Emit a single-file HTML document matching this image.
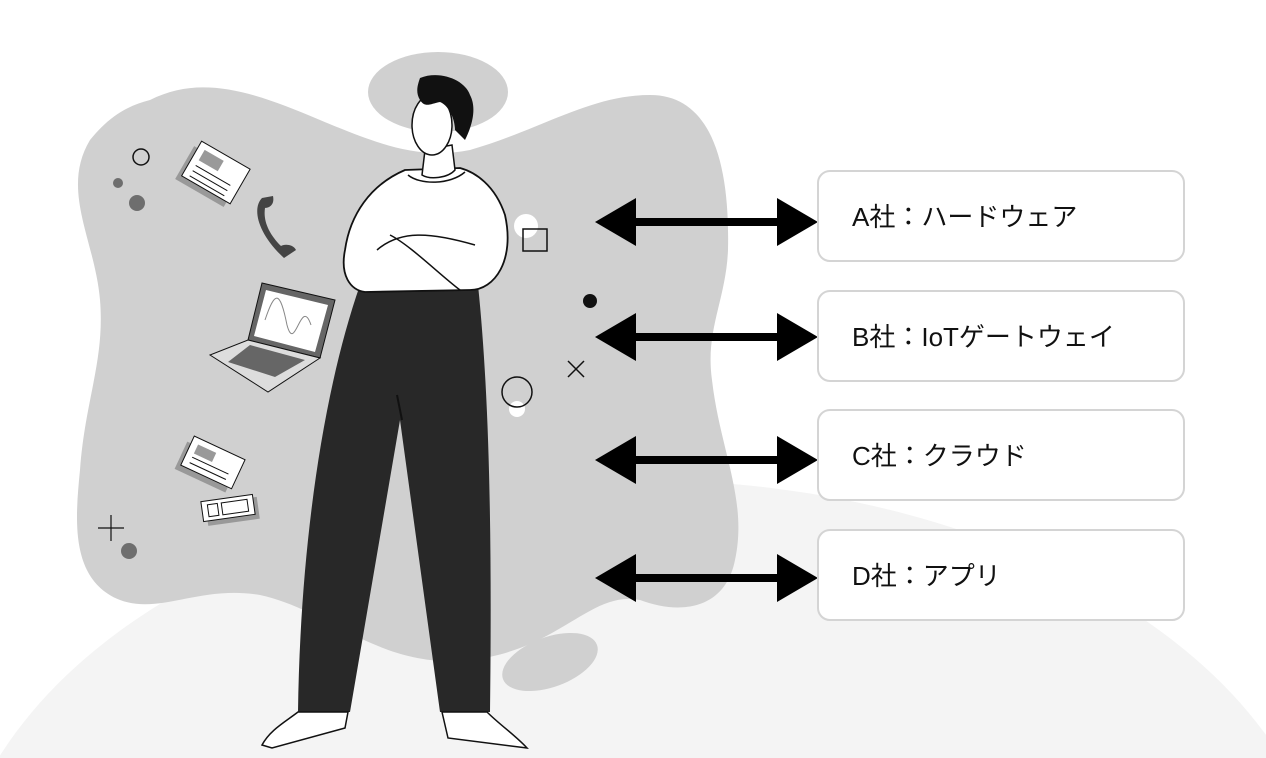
<!DOCTYPE html>
<html><head><meta charset="utf-8"><style>
html,body{margin:0;padding:0;background:#fff;width:1266px;height:758px;overflow:hidden;}
svg{display:block}
text{font-family:"Liberation Sans","Noto Sans CJK JP",sans-serif;}
</style></head><body>
<svg width="1266" height="758" viewBox="0 0 1266 758" xmlns="http://www.w3.org/2000/svg">
<ellipse cx="640" cy="920" rx="690" ry="440" fill="#f4f4f4"/>
<path d="M150,100 C200,75 250,90 320,120 C380,145 420,160 470,150 C540,130 590,95 650,95 C710,95 730,160 728,250 C726,300 705,330 712,380 C720,450 748,500 735,560 C725,610 680,615 640,600 C590,590 560,650 470,660 C380,670 330,610 260,595 C200,585 160,615 120,600 C70,580 75,520 80,470 C85,400 105,360 100,300 C95,240 60,190 90,140 C110,115 130,105 150,100 Z" fill="#d0d0d0"/>
<ellipse cx="438" cy="92" rx="70" ry="40" fill="#d0d0d0"/>
<ellipse cx="550" cy="662" rx="50" ry="25" fill="#d0d0d0" transform="rotate(-20 550 662)"/>
<circle cx="141" cy="157" r="8" fill="none" stroke="#111" stroke-width="1.5"/>
<circle cx="118" cy="183" r="5" fill="#6e6e6e"/>
<circle cx="137" cy="203" r="8" fill="#6e6e6e"/>
<circle cx="129" cy="551" r="8" fill="#6e6e6e"/>
<path d="M98,528 h26 M111,515 v26" stroke="#111" stroke-width="1.2"/>
<circle cx="590" cy="301" r="7" fill="#111"/>
<path d="M568,361 l16,16 M584,361 l-16,16" stroke="#111" stroke-width="1.5"/>
<circle cx="526" cy="226" r="12" fill="#fff"/>
<rect x="523" y="229" width="24" height="22" fill="none" stroke="#111" stroke-width="1.5"/>
<circle cx="517" cy="409" r="8" fill="#fff"/>
<circle cx="517" cy="392" r="15" fill="none" stroke="#111" stroke-width="1.5"/>
<g transform="translate(215,172) rotate(30)"><rect x="-27" y="-18" width="56" height="38" fill="#999" transform="translate(-4,6)"/><rect x="-27" y="-20" width="56" height="40" fill="#fff" stroke="#111"/><rect x="-20" y="-14" width="22" height="12" fill="#999"/><path d="M-20,4 h40 M-20,10 h40 M-20,16 h40" stroke="#111"/></g>
<g transform="translate(212,462) rotate(25)"><rect x="-27" y="-14" width="56" height="30" fill="#999" transform="translate(-4,6)"/><rect x="-27" y="-16" width="56" height="32" fill="#fff" stroke="#111"/><rect x="-20" y="-10" width="20" height="10" fill="#999"/><path d="M-20,4 h40 M-20,10 h40" stroke="#111"/></g>
<g transform="translate(228,508) rotate(-8)"><rect x="-26" y="-10" width="52" height="22" fill="#999" transform="translate(4,3)"/><rect x="-26" y="-10" width="52" height="20" fill="#fff" stroke="#111"/><rect x="-20" y="-6" width="10" height="12" fill="none" stroke="#111"/><rect x="-6" y="-6" width="26" height="12" fill="none" stroke="#111"/></g>
<path d="M262,198 c-10,10 -5,35 22,60 l12,-8 c-3,-6 -12,-6 -15,-4 c-12,-12 -18,-25 -16,-38 c3,0 10,-2 8,-12 z" fill="#444"/>
<g><polygon points="262,283 335,300 320,358 248,340" fill="#666" stroke="#111"/><polygon points="266,290 328,305 315,352 254,336" fill="#fff"/><path d="M265,320 c10,-30 15,-30 22,5 c8,30 14,-30 24,0" fill="none" stroke="#888"/><polygon points="248,340 320,358 268,392 210,355" fill="#ddd" stroke="#111"/><polygon points="250,345 305,360 275,377 228,362" fill="#666"/></g>
<path d="M360,285 L478,285 C490,400 492,550 490,712 L440,712 L400,420 L350,712 L298,712 C300,560 320,400 360,285 Z" fill="#282828"/>
<path d="M397,395 L402,420" stroke="#111" stroke-width="2"/>
<path d="M298,712 L348,712 L345,728 L272,748 L262,745 C270,730 285,722 298,712 Z" fill="#fff" stroke="#111" stroke-width="1.5"/>
<path d="M442,712 L487,712 C500,725 515,735 527,748 L448,738 Z" fill="#fff" stroke="#111" stroke-width="1.5"/>
<path d="M405,170 C370,185 350,215 345,250 C340,275 350,290 365,292 L470,290 C495,290 515,260 505,215 C495,185 475,172 460,168 Z" fill="#fff" stroke="#111" stroke-width="1.8"/>
<path d="M408,175 C420,185 450,185 465,172" fill="none" stroke="#111" stroke-width="1.5"/>
<path d="M377,250 C400,230 430,232 475,245 M390,235 C410,245 440,275 460,290" fill="none" stroke="#111" stroke-width="1.5"/>
<path d="M425,150 L422,175 C430,180 448,178 455,170 L452,145 Z" fill="#fff" stroke="#111" stroke-width="1.5"/>
<ellipse cx="432" cy="125" rx="20" ry="30" fill="#fff" stroke="#111" stroke-width="1.5"/>
<path d="M420,78 C440,70 465,80 470,95 C478,110 470,130 465,140 L455,130 C455,118 448,105 440,102 C430,104 425,108 420,100 C415,92 418,84 420,78 Z" fill="#111"/>
<g fill="#000">
<g id="a"><rect x="630" y="218" width="150" height="8"/><polygon points="595,222 636,198 636,246"/><polygon points="818,222 777,198 777,246"/></g>
<use href="#a" y="115"/>
<use href="#a" y="238"/>
<use href="#a" y="356"/>
</g>
<g fill="#fff" stroke="#d4d4d4" stroke-width="2">
<rect x="818" y="171" width="366" height="90" rx="12"/>
<rect x="818" y="291" width="366" height="90" rx="12"/>
<rect x="818" y="410" width="366" height="90" rx="12"/>
<rect x="818" y="530" width="366" height="90" rx="12"/>
</g>
<g font-size="26" fill="#111">
<text x="852" y="226">A社：ハードウェア</text>
<text x="852" y="346">B社：IoTゲートウェイ</text>
<text x="852" y="465">C社：クラウド</text>
<text x="852" y="585">D社：アプリ</text>
</g>
</svg>
</body></html>
